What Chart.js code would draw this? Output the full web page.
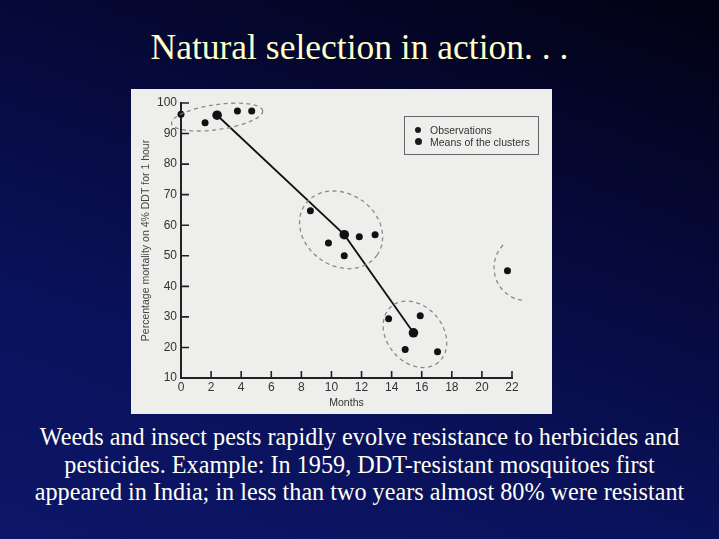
<!DOCTYPE html>
<html>
<head>
<meta charset="utf-8">
<script src="https://cdn.jsdelivr.net/npm/chart.js@4.4.1/dist/chart.umd.min.js"></script>
<style>
  html, body { margin:0; padding:0; }
  body {
    width:719px; height:539px; overflow:hidden; position:relative;
    background: linear-gradient(200deg, #020212 0%, #06093a 35%, #0a125c 70%, #0d1668 100%);
  }
  #title {
    position:absolute; left:0; top:28px; width:719px; text-align:center;
    font-family:"Liberation Serif","Times New Roman",serif; font-size:35.5px; color:#ffffc8;
    line-height:38px;
  }
  #panel {
    position:absolute; left:131px; top:89px; width:421px; height:325px; background:#eeeeec;
  }
  #chart { position:absolute; left:0; top:0; }
  #legend {
    position:absolute; left:273px; top:27px; width:133px; height:37px;
    border:1px solid #666; font-family:"Liberation Sans", Arial, sans-serif; font-size:10.5px; color:#333;
  }
  #legend .row { position:absolute; left:25px; white-space:nowrap; line-height:12px; }
  #legend .dot { position:absolute; border-radius:50%; background:#1a1a1a; }
  #caption {
    position:absolute; left:0; top:423px; width:719px; text-align:center;
    font-family:"Liberation Serif","Times New Roman",serif; font-size:24.2px; color:#fffff4;
    line-height:27.5px; white-space:nowrap;
  }
</style>
</head>
<body>
<div id="title">Natural selection in action. . .</div>
<div id="panel">
  <canvas id="chart" width="421" height="325"></canvas>
  <div id="legend">
    <div class="dot" style="left:10px;top:10px;width:6px;height:6px;"></div>
    <div class="row" style="top:7px;">Observations</div>
    <div class="dot" style="left:9.5px;top:21px;width:7px;height:7px;"></div>
    <div class="row" style="top:19px;">Means of the clusters</div>
  </div>
</div>
<div id="caption">Weeds and insect pests rapidly evolve resistance to herbicides and<br>pesticides. Example: In 1959, DDT-resistant mosquitoes first<br>appeared in India; in less than two years almost 80% were resistant</div>
<script>
// Data
const obsMonths    = [0, 1.6, 3.75, 4.7, 8.6, 9.8, 10.85, 11.85, 12.9, 13.8, 15.9, 14.9, 17.05, 21.7];
const obsMortality = [96.3, 93.5, 97.4, 97.4, 64.7, 54.2, 50.0, 56.2, 56.9, 29.4, 30.4, 19.3, 18.6, 45.1];
const meanMonths    = [2.4, 10.85, 15.45];
const meanMortality = [96.0, 56.9, 24.8];
const xTickValues = [0, 2, 4, 6, 8, 10, 12, 14, 16, 18, 20, 22];
const yTickValues = [10, 20, 30, 40, 50, 60, 70, 80, 90, 100];
// Cluster outlines: centre in data units
const clusterCentreMonths    = [2.4, 10.64, 15.55, 23.0];
const clusterCentreMortality = [95.4, 58.5, 24.3, 46.1];

const obsPoints = obsMonths.map((x, i) => ({x, y: obsMortality[i]}));
const meanPoints = meanMonths.map((x, i) => ({x, y: meanMortality[i]}));

// drawing styles for outlines (pixel radii / rotation)
const outlineStyle = [
  {rx:46, ry:12.5, rot:-8, a0:0, a1:360},
  {rx:44, ry:36, rot:35, a0:0, a1:360},
  {rx:36.5, ry:28, rot:50, a0:0, a1:360},
  {rx:33, ry:33, rot:0, a0:99, a1:228}
];

const decor = {
  id:'decor',
  afterDatasetsDraw(chart) {
    const {ctx, scales:{x, y}} = chart;
    ctx.save();
    ctx.strokeStyle = '#8a8a8a';
    ctx.lineWidth = 1.3;
    ctx.setLineDash([4, 3.5]);
    clusterCentreMonths.forEach((m, i) => {
      const s = outlineStyle[i];
      const cx = x.getPixelForValue(m), cy = y.getPixelForValue(clusterCentreMortality[i]);
      ctx.beginPath();
      ctx.ellipse(cx, cy, s.rx, s.ry, s.rot*Math.PI/180, s.a0*Math.PI/180, s.a1*Math.PI/180);
      ctx.stroke();
    });
    ctx.restore();
  },
  afterDraw(chart) {
    const {ctx, chartArea, scales:{x, y}} = chart;
    ctx.save();
    ctx.strokeStyle = '#222';
    ctx.lineWidth = 1.6;
    ctx.beginPath();
    xTickValues.forEach(v => {
      if (v === x.min) return;
      const px = x.getPixelForValue(v);
      ctx.moveTo(px, chartArea.bottom); ctx.lineTo(px, chartArea.bottom - 7);
    });
    yTickValues.forEach(v => {
      if (v === y.min) return;
      const py = y.getPixelForValue(v);
      ctx.moveTo(chartArea.left, py); ctx.lineTo(chartArea.left + 8, py);
    });
    ctx.stroke();
    ctx.restore();
  }
};

const tickFont = {family:'"Liberation Sans", Arial, sans-serif', size:12};

new Chart(document.getElementById('chart'), {
  type:'scatter',
  data:{
    datasets:[
      {label:'Means of the clusters', data:meanPoints, showLine:true, borderColor:'#111', borderWidth:1.8,
       pointRadius:4.8, pointBackgroundColor:'#111', pointBorderWidth:0, clip:false, order:1},
      {label:'Observations', data:obsPoints, pointRadius:3.5, pointBackgroundColor:'#111',
       pointBorderWidth:0, clip:false, order:2}
    ]
  },
  options:{
    responsive:false, animation:false,
    layout:{padding:{top:14, right:40, left:0, bottom:0}},
    plugins:{legend:{display:false}, tooltip:{enabled:false}},
    scales:{
      x:{type:'linear', min:0, max:22,
         afterBuildTicks(s){ s.ticks = xTickValues.map(v => ({value:v})); },
         afterFit(s){ s.height = 36; },
         grid:{display:false, drawTicks:false},
         border:{display:true, color:'#222', width:2},
         ticks:{color:'#333', font:tickFont, padding:2, maxRotation:0, autoSkip:false},
         title:{display:true, text:'Months', color:'#333', font:{family:'"Liberation Sans", Arial, sans-serif', size:10.5}, padding:{top:0, bottom:5}}
      },
      y:{type:'linear', min:10, max:100,
         afterBuildTicks(s){ s.ticks = yTickValues.map(v => ({value:v})); },
         afterFit(s){ s.width = 50; },
         grid:{display:false, drawTicks:false},
         border:{display:true, color:'#222', width:2},
         ticks:{color:'#333', font:tickFont, padding:4, autoSkip:false},
         title:{display:true, text:'Percentage mortality on 4% DDT for 1 hour', color:'#444', font:{family:'"Liberation Sans", Arial, sans-serif', size:10.5}, padding:{top:9, bottom:0}}
      }
    }
  },
  plugins:[decor]
});
</script>
</body>
</html>
